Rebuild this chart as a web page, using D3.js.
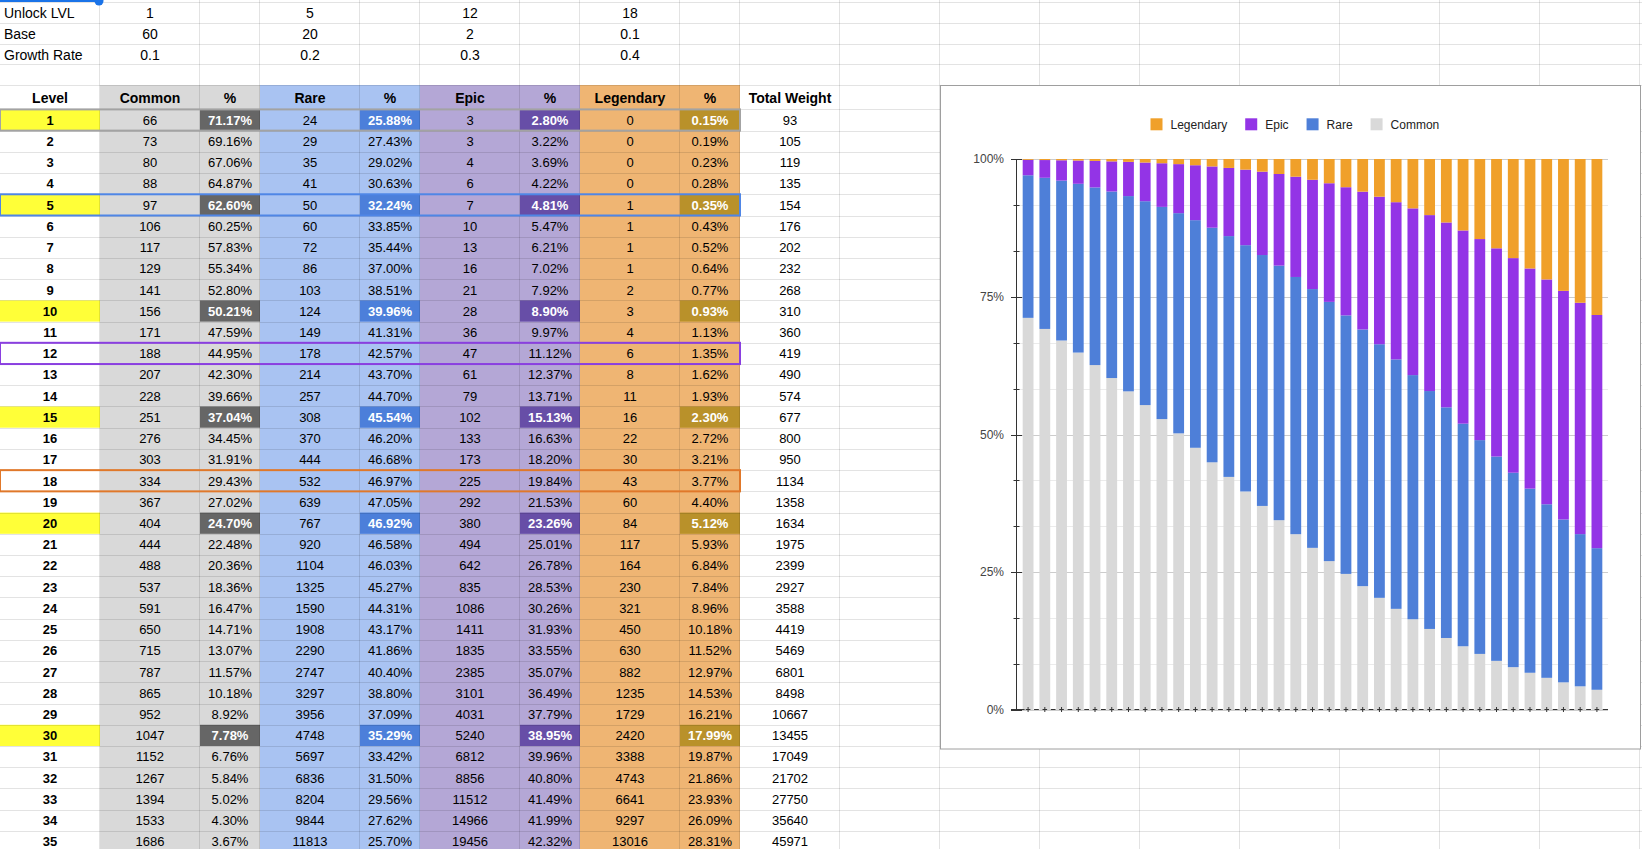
<!DOCTYPE html>
<html>
<head>
<meta charset="utf-8">
<script src="https://cdn.jsdelivr.net/npm/d3@7"></script>
<style>
  body { margin: 0; background: #fff; overflow: hidden; }
  svg { display: block; font-family: Arial, "Liberation Sans", sans-serif; }
</style>
</head>
<body>
<svg id="sheet" width="1642" height="849"></svg>
<script>
// ---- sheet parameters ----
var paramLabels = ["Unlock LVL", "Base", "Growth Rate"];
var unlockLvl = [1, 5, 12, 18];
var baseW = [60, 20, 2, 0.1];
var growthRate = [0.1, 0.2, 0.3, 0.4];

// ---- table / chart data ----
var levels = [1,2,3,4,5,6,7,8,9,10,11,12,13,14,15,16,17,18,19,20,21,22,23,24,25,26,27,28,29,30,31,32,33,34,35];
var commonW = [66,73,80,88,97,106,117,129,141,156,171,188,207,228,251,276,303,334,367,404,444,488,537,591,650,715,787,865,952,1047,1152,1267,1394,1533,1686];
var commonPct = [71.17,69.16,67.06,64.87,62.60,60.25,57.83,55.34,52.80,50.21,47.59,44.95,42.30,39.66,37.04,34.45,31.91,29.43,27.02,24.70,22.48,20.36,18.36,16.47,14.71,13.07,11.57,10.18,8.92,7.78,6.76,5.84,5.02,4.30,3.67];
var rareW = [24,29,35,41,50,60,72,86,103,124,149,178,214,257,308,370,444,532,639,767,920,1104,1325,1590,1908,2290,2747,3297,3956,4748,5697,6836,8204,9844,11813];
var rarePct = [25.88,27.43,29.02,30.63,32.24,33.85,35.44,37.00,38.51,39.96,41.31,42.57,43.70,44.70,45.54,46.20,46.68,46.97,47.05,46.92,46.58,46.03,45.27,44.31,43.17,41.86,40.40,38.80,37.09,35.29,33.42,31.50,29.56,27.62,25.70];
var epicW = [3,3,4,6,7,10,13,16,21,28,36,47,61,79,102,133,173,225,292,380,494,642,835,1086,1411,1835,2385,3101,4031,5240,6812,8856,11512,14966,19456];
var epicPct = [2.80,3.22,3.69,4.22,4.81,5.47,6.21,7.02,7.92,8.90,9.97,11.12,12.37,13.71,15.13,16.63,18.20,19.84,21.53,23.26,25.01,26.78,28.53,30.26,31.93,33.55,35.07,36.49,37.79,38.95,39.96,40.80,41.49,41.99,42.32];
var legW = [0,0,0,0,1,1,1,1,2,3,4,6,8,11,16,22,30,43,60,84,117,164,230,321,450,630,882,1235,1729,2420,3388,4743,6641,9297,13016];
var legPct = [0.15,0.19,0.23,0.28,0.35,0.43,0.52,0.64,0.77,0.93,1.13,1.35,1.62,1.93,2.30,2.72,3.21,3.77,4.40,5.12,5.93,6.84,7.84,8.96,10.18,11.52,12.97,14.53,16.21,17.99,19.87,21.86,23.93,26.09,28.31];
var totalW = [93,105,119,135,154,176,202,232,268,310,360,419,490,574,677,800,950,1134,1358,1634,1975,2399,2927,3588,4419,5469,6801,8498,10667,13455,17049,21702,27750,35640,45971];

var headers = ["Level", "Common", "%", "Rare", "%", "Epic", "%", "Legendary", "%", "Total Weight"];
var rarities = ["Common", "Rare", "Epic", "Legendary"];
var highlightLevels = [1, 5, 10, 15, 20, 30];

// ---- styling ----
var colEdges = [0,100,200,260,360,420,520,580,680,740,840,940,1040,1140,1240,1340,1440,1540,1640];
var topRowEdges = [1.5, 22.5, 43.5, 64, 85];
var headTop = 85, dataTop = 109.4, rowH = 21.22;
var colFill = ["#ffffff","#d9d9d9","#d9d9d9","#a9c3f2","#a9c3f2","#b4a7d6","#b4a7d6","#efb573","#efb573","#ffffff"];
var hiFill = { 2: "#666666", 4: "#4c7fda", 6: "#674ea7", 8: "#b9912a" };
var unlockBorder = { 1: "#a3a3a3", 5: "#4f86e6", 12: "#8a3fe0", 18: "#e0782a" };
var barColor = { Common: "#d9d9d9", Rare: "#4e7fd8", Epic: "#9334e6", Legendary: "#f0a02a" };

var svg = d3.select("#sheet");
var rowTop = function(i) { return dataTop + i * rowH; };
var cx = function(c) { return (colEdges[c] + colEdges[c + 1]) / 2; };

// cell fills: header + data rows
var fills = svg.append("g");
for (var c = 0; c < 10; c++) {
  fills.append("rect").attr("x", colEdges[c]).attr("y", headTop)
    .attr("width", colEdges[c + 1] - colEdges[c]).attr("height", dataTop + levels.length * rowH - headTop)
    .attr("fill", colFill[c]);
}
levels.forEach(function(lv, i) {
  if (highlightLevels.indexOf(lv) < 0) return;
  fills.append("rect").attr("x", 0).attr("y", rowTop(i)).attr("width", 100).attr("height", rowH).attr("fill", "#ffff38");
  [2, 4, 6, 8].forEach(function(c) {
    fills.append("rect").attr("x", colEdges[c]).attr("y", rowTop(i))
      .attr("width", colEdges[c + 1] - colEdges[c]).attr("height", rowH).attr("fill", hiFill[c]);
  });
});

// gridlines
var grid = svg.append("g").attr("stroke", "rgba(0,0,0,0.11)").attr("stroke-width", 1);
var hLines = topRowEdges.concat(levels.map(function(d, i) { return rowTop(i); }));
hLines.push(rowTop(levels.length));
hLines.forEach(function(y) {
  grid.append("line").attr("x1", 0).attr("x2", 1642).attr("y1", Math.round(y) + 0.5).attr("y2", Math.round(y) + 0.5);
});
colEdges.slice(1).forEach(function(x) {
  grid.append("line").attr("x1", x - 0.5).attr("x2", x - 0.5).attr("y1", 0).attr("y2", 849);
});

// selection handle at top left
svg.append("rect").attr("x", 0).attr("y", 0).attr("width", 99).attr("height", 2).attr("fill", "#1a73e8");
svg.append("circle").attr("cx", 99).attr("cy", 1).attr("r", 4.5).attr("fill", "#1a73e8");

// parameter rows
var txt = svg.append("g").attr("font-size", 13).attr("fill", "#000");
[unlockLvl, baseW, growthRate].forEach(function(arr, r) {
  var yb = (topRowEdges[r] + topRowEdges[r + 1]) / 2 + 6;
  txt.append("text").attr("x", 4).attr("y", yb).attr("font-size", 14).text(paramLabels[r]);
  arr.forEach(function(v, k) {
    txt.append("text").attr("x", cx(1 + 2 * k)).attr("y", yb).attr("font-size", 14)
      .attr("text-anchor", "middle").text(v);
  });
});

// header row
headers.forEach(function(h, c) {
  txt.append("text").attr("x", cx(c)).attr("y", headTop + 18.3).attr("text-anchor", "middle")
    .attr("font-size", 14).attr("font-weight", "bold").text(h);
});

// data rows
var fmtPct = function(v) { return v.toFixed(2) + "%"; };
levels.forEach(function(lv, i) {
  var yb = rowTop(i) + rowH / 2 + 4.8;
  var hi = highlightLevels.indexOf(lv) >= 0;
  var vals = [lv, commonW[i], fmtPct(commonPct[i]), rareW[i], fmtPct(rarePct[i]),
              epicW[i], fmtPct(epicPct[i]), legW[i], fmtPct(legPct[i]), totalW[i]];
  vals.forEach(function(v, c) {
    var isPct = c === 2 || c === 4 || c === 6 || c === 8;
    txt.append("text").attr("x", cx(c)).attr("y", yb).attr("text-anchor", "middle")
      .attr("font-weight", (c === 0 || (hi && isPct)) ? "bold" : null)
      .attr("fill", (hi && isPct) ? "#ffffff" : "#000")
      .text(v);
  });
});

// unlock row borders
levels.forEach(function(lv, i) {
  if (!unlockBorder[lv]) return;
  svg.append("rect").attr("x", 0).attr("y", rowTop(i)).attr("width", 740).attr("height", rowH)
    .attr("fill", "none").attr("stroke", unlockBorder[lv]).attr("stroke-width", 2);
});

// ---- chart ----
var chart = svg.append("g");
chart.append("rect").attr("x", 940.5).attr("y", 85.5).attr("width", 700).attr("height", 663.5)
  .attr("fill", "#fff").attr("stroke", "#9e9e9e");

var x = d3.scaleBand().domain(levels).range([1017, 1608]).paddingInner(0.354).paddingOuter(0.34);
var y = d3.scaleLinear().domain([0, 1]).range([710, 159]);

// gridlines every 1/12
d3.range(0, 13).forEach(function(k) {
  var yy = Math.round(y(k / 12)) + 0.5;
  chart.append("line").attr("x1", 1017).attr("x2", 1608).attr("y1", yy).attr("y2", yy)
    .attr("stroke", k % 3 === 0 ? "#cccccc" : "#ebebeb");
});

var rows = levels.map(function(lv, i) {
  return { level: lv, Common: commonPct[i], Rare: rarePct[i], Epic: epicPct[i], Legendary: legPct[i] };
});
var series = d3.stack().keys(rarities).offset(d3.stackOffsetExpand)(rows);

chart.selectAll("g.series").data(series).join("g").attr("class", "series")
  .attr("fill", function(s) { return barColor[s.key]; })
  .selectAll("rect").data(function(s) { return s; }).join("rect")
  .attr("x", function(d) { return x(d.data.level); })
  .attr("width", x.bandwidth())
  .attr("y", function(d) { return y(d[1]); })
  .attr("height", function(d) { return y(d[0]) - y(d[1]); });

// y axis
var ax = chart.append("g").attr("stroke", "#333").attr("stroke-width", 1);
ax.append("line").attr("x1", 1016.5).attr("x2", 1016.5).attr("y1", 159).attr("y2", 710);
d3.range(0, 13).forEach(function(k) {
  var yy = Math.round(y(k / 12)) + 0.5;
  var major = k % 3 === 0;
  ax.append("line").attr("x1", major ? 1011 : 1013.5).attr("x2", major ? 1022 : 1019.5)
    .attr("y1", yy).attr("y2", yy);
});
var fmtAxis = d3.format(".0%");
[0, 0.25, 0.5, 0.75, 1].forEach(function(v) {
  chart.append("text").attr("x", 1004).attr("y", y(v)).attr("dy", "0.35em")
    .attr("text-anchor", "end").attr("font-size", 12).attr("fill", "#444").text(fmtAxis(v));
});

// x axis: ticks at bar centres, dashed baseline
var x0 = 709.5;
var centers = levels.map(function(lv) { return x(lv) + x.bandwidth() / 2; });
ax.append("line").attr("x1", 1011).attr("x2", centers[0] - 3.5).attr("y1", x0).attr("y2", x0);
centers.forEach(function(c, i) {
  ax.append("line").attr("x1", c).attr("x2", c).attr("y1", x0 - 2.5).attr("y2", x0 + 2.5);
  ax.append("line").attr("x1", c - 2.3).attr("x2", c + 2.3).attr("y1", x0).attr("y2", x0);
  var m = i < centers.length - 1 ? (c + centers[i + 1]) / 2 : null;
  if (m !== null) ax.append("line").attr("x1", m - 2.4).attr("x2", m + 2.4).attr("y1", x0).attr("y2", x0);
});
ax.append("line").attr("x1", centers[centers.length - 1] + 5.8).attr("x2", 1608).attr("y1", x0).attr("y2", x0);

// legend
var legendKeys = ["Legendary", "Epic", "Rare", "Common"];
var lg = chart.append("g");
var lx = 1150.5, ly = 124.3;
legendKeys.forEach(function(k) {
  lg.append("rect").attr("x", lx).attr("y", ly - 6).attr("width", 12).attr("height", 12).attr("fill", barColor[k]);
  var t = lg.append("text").attr("x", lx + 20).attr("y", ly).attr("dy", "0.35em")
    .attr("font-size", 12).attr("fill", "#222").text(k);
  lx += 20 + t.node().getComputedTextLength() + 18;
});
</script>
</body>
</html>
